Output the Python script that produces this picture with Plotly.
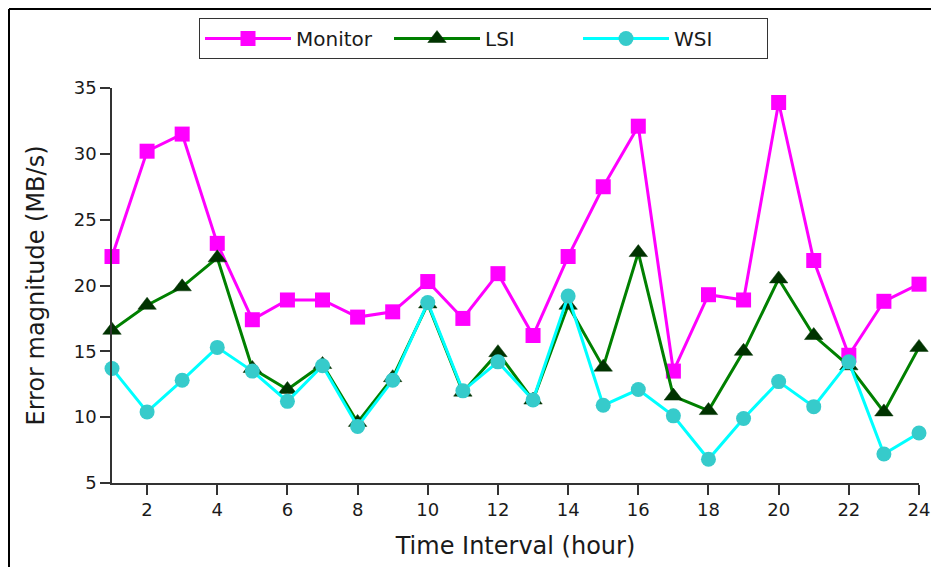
import plotly.graph_objects as go

hours = list(range(1, 25))
monitor = [22.2, 30.2, 31.5, 23.2, 17.4, 18.9, 18.9, 17.6, 18.0, 20.3, 17.5, 20.9,
           16.2, 22.2, 27.5, 32.1, 13.5, 19.3, 18.9, 33.9, 21.9, 14.7, 18.8, 20.1]
lsi = [16.6, 18.5, 19.9, 22.1, 13.7, 12.1, 14.0, 9.6, 13.0, 18.6, 11.9, 14.9,
       11.3, 18.5, 13.8, 22.5, 11.6, 10.5, 15.0, 20.5, 16.2, 13.9, 10.4, 15.3]
wsi = [13.7, 10.4, 12.8, 15.3, 13.5, 11.2, 13.9, 9.3, 12.8, 18.7, 12.0, 14.2,
       11.3, 19.2, 10.9, 12.1, 10.1, 6.8, 9.9, 12.7, 10.8, 14.2, 7.2, 8.8]
x_ticks = list(range(2, 25, 2))
y_ticks = [5, 10, 15, 20, 25, 30, 35]

FONT = "DejaVu Sans"

fig = go.Figure()
fig.add_trace(go.Scatter(
    x=hours, y=monitor, name="Monitor", mode="lines+markers",
    line=dict(color="#ff00ff", width=3),
    marker=dict(symbol="square", size=15, color="#ff00ff"),
    cliponaxis=False))
fig.add_trace(go.Scatter(
    x=hours, y=lsi, name="LSI", mode="lines+markers",
    line=dict(color="#008000", width=3),
    marker=dict(symbol="triangle-up", size=16, color="#003300",
                line=dict(color="#003300", width=0.5)),
    cliponaxis=False))
fig.add_trace(go.Scatter(
    x=hours, y=wsi, name="WSI", mode="lines+markers",
    line=dict(color="#00ffff", width=3),
    marker=dict(symbol="circle", size=15, color="#36cbcb"),
    cliponaxis=False))

# page body has an 8px margin; figure sized so it fits the window
W, H = 931, 559
L, R, T, B = 104, 20, 80, 84
pw, ph = W - L - R, H - T - B

def px_to_paper_x(px):
    return (px - L) / pw

def px_to_paper_y(py):
    return (H - B - py) / ph

fig.update_layout(
    width=W, height=H,
    margin=dict(l=L, r=R, t=T, b=B, autoexpand=False),
    paper_bgcolor="white", plot_bgcolor="white",
    font=dict(family=FONT, size=18, color="#1a1a1a"),
    showlegend=True,
    legend=dict(
        orientation="h",
        x=px_to_paper_x(191), y=px_to_paper_y(10),
        xanchor="left", yanchor="top",
        bordercolor="#333333", borderwidth=1,
        bgcolor="white",
        font=dict(family=FONT, size=20, color="#1a1a1a"),
        entrywidth=88, entrywidthmode="pixels",
        itemwidth=86,
    ),
    xaxis=dict(
        range=[1, 24], tickmode="array", tickvals=x_ticks,
        ticktext=[str(v) for v in x_ticks],
        showgrid=False, zeroline=False,
        showline=True, linecolor="#333333", linewidth=1.5,
        ticks="outside", ticklen=10, tickwidth=1.5, tickcolor="#333333",
        tickfont=dict(family=FONT, size=18, color="#1a1a1a"),
        title=dict(text="Time Interval (hour)",
                   font=dict(family=FONT, size=24, color="#1a1a1a"),
                   standoff=18),
    ),
    yaxis=dict(
        range=[5, 35], tickmode="array", tickvals=y_ticks,
        ticktext=[str(v) for v in y_ticks],
        showgrid=False, zeroline=False,
        showline=True, linecolor="#333333", linewidth=1.5,
        ticks="outside", ticklen=10, tickwidth=1.5, tickcolor="#333333",
        tickfont=dict(family=FONT, size=18, color="#1a1a1a"),
        title=dict(text="Error magnitude (MB/s)",
                   font=dict(family=FONT, size=24, color="#1a1a1a"),
                   standoff=22),
    ),
    shapes=[
        dict(type="line", xref="paper", yref="paper",
             x0=px_to_paper_x(1), x1=px_to_paper_x(W + 5),
             y0=px_to_paper_y(1), y1=px_to_paper_y(1),
             line=dict(color="black", width=2)),
        dict(type="line", xref="paper", yref="paper",
             x0=px_to_paper_x(1), x1=px_to_paper_x(1),
             y0=px_to_paper_y(1), y1=px_to_paper_y(H + 5),
             line=dict(color="black", width=2)),
    ],
)

fig.write_html("out.html")
